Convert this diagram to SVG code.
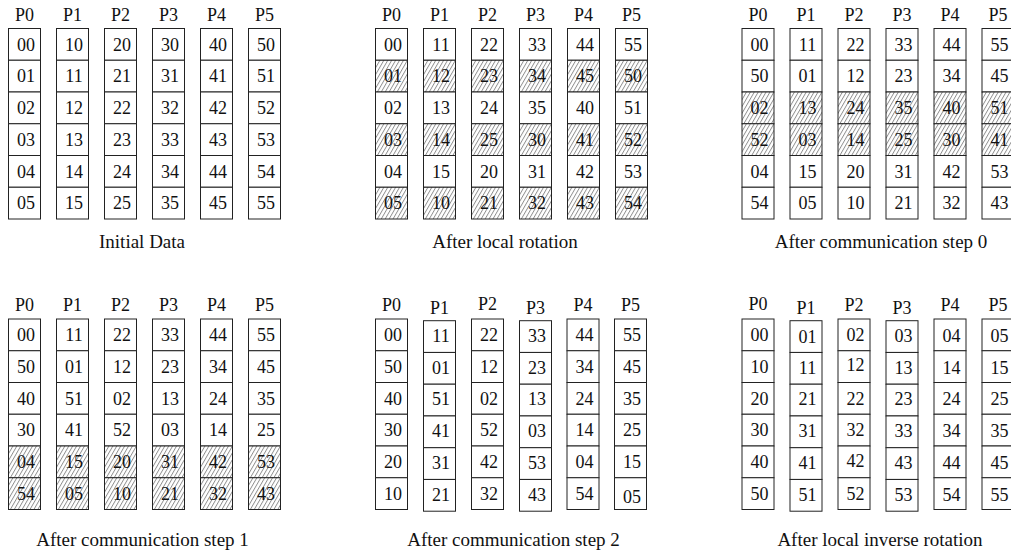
<svg xmlns="http://www.w3.org/2000/svg" xmlns:xlink="http://www.w3.org/1999/xlink" width="1011" height="552" viewBox="0 0 1011 552">
<style>
.c{fill:#fff;stroke:#222;stroke-width:1}
.h{fill:url(#hatch);stroke:#222;stroke-width:1}
text{font-family:"Liberation Serif","Times New Roman",serif;fill:#111}
.col text{font-size:18px;text-anchor:middle}
.lbl{font-size:18px;text-anchor:middle}
.cap{font-size:19px;text-anchor:middle}
</style>
<defs>
<rect id="cell" width="32" height="31.75"/>
<pattern id="hatch" width="3.4" height="10" patternUnits="userSpaceOnUse" patternTransform="rotate(30)">
<rect width="3.4" height="10" fill="#fff"/>
<line x1="0.5" y1="0" x2="0.5" y2="10" stroke="#444" stroke-width="0.6"/>
</pattern>
</defs>
<rect width="1011" height="552" fill="#fff"/>
<g id="connectors"/>

<!-- Panel 1: Initial Data -->
<g id="panel-initial">
<text class="lbl" x="24.5" y="20.5">P0</text><text class="lbl" x="72.5" y="20.5">P1</text><text class="lbl" x="120.5" y="20.5">P2</text><text class="lbl" x="168.5" y="20.5">P3</text><text class="lbl" x="216.5" y="20.5">P4</text><text class="lbl" x="264.5" y="20.5">P5</text>
<g id="init-P0" class="col" transform="translate(8.5,28.5)"><use class="c" href="#cell" y="0"/><use class="c" href="#cell" y="31.75"/><use class="c" href="#cell" y="63.5"/><use class="c" href="#cell" y="95.25"/><use class="c" href="#cell" y="127"/><use class="c" href="#cell" y="158.75"/><text x="17.5" y="22">00</text><text x="17.5" y="53.75">01</text><text x="17.5" y="85.5">02</text><text x="17.5" y="117.25">03</text><text x="17.5" y="149">04</text><text x="17.5" y="180.75">05</text></g>
<g id="init-P1" class="col" transform="translate(56.5,28.5)"><use class="c" href="#cell" y="0"/><use class="c" href="#cell" y="31.75"/><use class="c" href="#cell" y="63.5"/><use class="c" href="#cell" y="95.25"/><use class="c" href="#cell" y="127"/><use class="c" href="#cell" y="158.75"/><text x="17.5" y="22">10</text><text x="17.5" y="53.75">11</text><text x="17.5" y="85.5">12</text><text x="17.5" y="117.25">13</text><text x="17.5" y="149">14</text><text x="17.5" y="180.75">15</text></g>
<g id="init-P2" class="col" transform="translate(104.5,28.5)"><use class="c" href="#cell" y="0"/><use class="c" href="#cell" y="31.75"/><use class="c" href="#cell" y="63.5"/><use class="c" href="#cell" y="95.25"/><use class="c" href="#cell" y="127"/><use class="c" href="#cell" y="158.75"/><text x="17.5" y="22">20</text><text x="17.5" y="53.75">21</text><text x="17.5" y="85.5">22</text><text x="17.5" y="117.25">23</text><text x="17.5" y="149">24</text><text x="17.5" y="180.75">25</text></g>
<g id="init-P3" class="col" transform="translate(152.5,28.5)"><use class="c" href="#cell" y="0"/><use class="c" href="#cell" y="31.75"/><use class="c" href="#cell" y="63.5"/><use class="c" href="#cell" y="95.25"/><use class="c" href="#cell" y="127"/><use class="c" href="#cell" y="158.75"/><text x="17.5" y="22">30</text><text x="17.5" y="53.75">31</text><text x="17.5" y="85.5">32</text><text x="17.5" y="117.25">33</text><text x="17.5" y="149">34</text><text x="17.5" y="180.75">35</text></g>
<g id="init-P4" class="col" transform="translate(200.5,28.5)"><use class="c" href="#cell" y="0"/><use class="c" href="#cell" y="31.75"/><use class="c" href="#cell" y="63.5"/><use class="c" href="#cell" y="95.25"/><use class="c" href="#cell" y="127"/><use class="c" href="#cell" y="158.75"/><text x="17.5" y="22">40</text><text x="17.5" y="53.75">41</text><text x="17.5" y="85.5">42</text><text x="17.5" y="117.25">43</text><text x="17.5" y="149">44</text><text x="17.5" y="180.75">45</text></g>
<g id="init-P5" class="col" transform="translate(248.5,28.5)"><use class="c" href="#cell" y="0"/><use class="c" href="#cell" y="31.75"/><use class="c" href="#cell" y="63.5"/><use class="c" href="#cell" y="95.25"/><use class="c" href="#cell" y="127"/><use class="c" href="#cell" y="158.75"/><text x="17.5" y="22">50</text><text x="17.5" y="53.75">51</text><text x="17.5" y="85.5">52</text><text x="17.5" y="117.25">53</text><text x="17.5" y="149">54</text><text x="17.5" y="180.75">55</text></g>
<text class="cap" x="142" y="248">Initial Data</text>
</g>

<!-- Panel 2: After local rotation -->
<g id="panel-rotation">
<text class="lbl" x="391.5" y="20.5">P0</text><text class="lbl" x="439.5" y="20.5">P1</text><text class="lbl" x="487.5" y="20.5">P2</text><text class="lbl" x="535.5" y="20.5">P3</text><text class="lbl" x="583.5" y="20.5">P4</text><text class="lbl" x="631.5" y="20.5">P5</text>
<g id="rot-P0" class="col" transform="translate(375.5,28.5)"><use class="c" href="#cell" y="0"/><use class="h" href="#cell" y="31.75"/><use class="c" href="#cell" y="63.5"/><use class="h" href="#cell" y="95.25"/><use class="c" href="#cell" y="127"/><use class="h" href="#cell" y="158.75"/><text x="17.5" y="22">00</text><text x="17.5" y="53.75">01</text><text x="17.5" y="85.5">02</text><text x="17.5" y="117.25">03</text><text x="17.5" y="149">04</text><text x="17.5" y="180.75">05</text></g>
<g id="rot-P1" class="col" transform="translate(423.5,28.5)"><use class="c" href="#cell" y="0"/><use class="h" href="#cell" y="31.75"/><use class="c" href="#cell" y="63.5"/><use class="h" href="#cell" y="95.25"/><use class="c" href="#cell" y="127"/><use class="h" href="#cell" y="158.75"/><text x="17.5" y="22">11</text><text x="17.5" y="53.75">12</text><text x="17.5" y="85.5">13</text><text x="17.5" y="117.25">14</text><text x="17.5" y="149">15</text><text x="17.5" y="180.75">10</text></g>
<g id="rot-P2" class="col" transform="translate(471.5,28.5)"><use class="c" href="#cell" y="0"/><use class="h" href="#cell" y="31.75"/><use class="c" href="#cell" y="63.5"/><use class="h" href="#cell" y="95.25"/><use class="c" href="#cell" y="127"/><use class="h" href="#cell" y="158.75"/><text x="17.5" y="22">22</text><text x="17.5" y="53.75">23</text><text x="17.5" y="85.5">24</text><text x="17.5" y="117.25">25</text><text x="17.5" y="149">20</text><text x="17.5" y="180.75">21</text></g>
<g id="rot-P3" class="col" transform="translate(519.5,28.5)"><use class="c" href="#cell" y="0"/><use class="h" href="#cell" y="31.75"/><use class="c" href="#cell" y="63.5"/><use class="h" href="#cell" y="95.25"/><use class="c" href="#cell" y="127"/><use class="h" href="#cell" y="158.75"/><text x="17.5" y="22">33</text><text x="17.5" y="53.75">34</text><text x="17.5" y="85.5">35</text><text x="17.5" y="117.25">30</text><text x="17.5" y="149">31</text><text x="17.5" y="180.75">32</text></g>
<g id="rot-P4" class="col" transform="translate(567.5,28.5)"><use class="c" href="#cell" y="0"/><use class="h" href="#cell" y="31.75"/><use class="c" href="#cell" y="63.5"/><use class="h" href="#cell" y="95.25"/><use class="c" href="#cell" y="127"/><use class="h" href="#cell" y="158.75"/><text x="17.5" y="22">44</text><text x="17.5" y="53.75">45</text><text x="17.5" y="85.5">40</text><text x="17.5" y="117.25">41</text><text x="17.5" y="149">42</text><text x="17.5" y="180.75">43</text></g>
<g id="rot-P5" class="col" transform="translate(615.5,28.5)"><use class="c" href="#cell" y="0"/><use class="h" href="#cell" y="31.75"/><use class="c" href="#cell" y="63.5"/><use class="h" href="#cell" y="95.25"/><use class="c" href="#cell" y="127"/><use class="h" href="#cell" y="158.75"/><text x="17.5" y="22">55</text><text x="17.5" y="53.75">50</text><text x="17.5" y="85.5">51</text><text x="17.5" y="117.25">52</text><text x="17.5" y="149">53</text><text x="17.5" y="180.75">54</text></g>
<text class="cap" x="505" y="248">After local rotation</text>
</g>

<!-- Panel 3: After communication step 0 -->
<g id="panel-step0">
<text class="lbl" x="758" y="20.5">P0</text><text class="lbl" x="806" y="20.5">P1</text><text class="lbl" x="854" y="20.5">P2</text><text class="lbl" x="902" y="20.5">P3</text><text class="lbl" x="950" y="20.5">P4</text><text class="lbl" x="998" y="20.5">P5</text>
<g id="s0-P0" class="col" transform="translate(742,28.5)"><use class="c" href="#cell" y="0"/><use class="c" href="#cell" y="31.75"/><use class="h" href="#cell" y="63.5"/><use class="h" href="#cell" y="95.25"/><use class="c" href="#cell" y="127"/><use class="c" href="#cell" y="158.75"/><text x="17.5" y="22">00</text><text x="17.5" y="53.75">50</text><text x="17.5" y="85.5">02</text><text x="17.5" y="117.25">52</text><text x="17.5" y="149">04</text><text x="17.5" y="180.75">54</text></g>
<g id="s0-P1" class="col" transform="translate(790,28.5)"><use class="c" href="#cell" y="0"/><use class="c" href="#cell" y="31.75"/><use class="h" href="#cell" y="63.5"/><use class="h" href="#cell" y="95.25"/><use class="c" href="#cell" y="127"/><use class="c" href="#cell" y="158.75"/><text x="17.5" y="22">11</text><text x="17.5" y="53.75">01</text><text x="17.5" y="85.5">13</text><text x="17.5" y="117.25">03</text><text x="17.5" y="149">15</text><text x="17.5" y="180.75">05</text></g>
<g id="s0-P2" class="col" transform="translate(838,28.5)"><use class="c" href="#cell" y="0"/><use class="c" href="#cell" y="31.75"/><use class="h" href="#cell" y="63.5"/><use class="h" href="#cell" y="95.25"/><use class="c" href="#cell" y="127"/><use class="c" href="#cell" y="158.75"/><text x="17.5" y="22">22</text><text x="17.5" y="53.75">12</text><text x="17.5" y="85.5">24</text><text x="17.5" y="117.25">14</text><text x="17.5" y="149">20</text><text x="17.5" y="180.75">10</text></g>
<g id="s0-P3" class="col" transform="translate(886,28.5)"><use class="c" href="#cell" y="0"/><use class="c" href="#cell" y="31.75"/><use class="h" href="#cell" y="63.5"/><use class="h" href="#cell" y="95.25"/><use class="c" href="#cell" y="127"/><use class="c" href="#cell" y="158.75"/><text x="17.5" y="22">33</text><text x="17.5" y="53.75">23</text><text x="17.5" y="85.5">35</text><text x="17.5" y="117.25">25</text><text x="17.5" y="149">31</text><text x="17.5" y="180.75">21</text></g>
<g id="s0-P4" class="col" transform="translate(934,28.5)"><use class="c" href="#cell" y="0"/><use class="c" href="#cell" y="31.75"/><use class="h" href="#cell" y="63.5"/><use class="h" href="#cell" y="95.25"/><use class="c" href="#cell" y="127"/><use class="c" href="#cell" y="158.75"/><text x="17.5" y="22">44</text><text x="17.5" y="53.75">34</text><text x="17.5" y="85.5">40</text><text x="17.5" y="117.25">30</text><text x="17.5" y="149">42</text><text x="17.5" y="180.75">32</text></g>
<g id="s0-P5" class="col" transform="translate(982,28.5)"><use class="c" href="#cell" y="0"/><use class="c" href="#cell" y="31.75"/><use class="h" href="#cell" y="63.5"/><use class="h" href="#cell" y="95.25"/><use class="c" href="#cell" y="127"/><use class="c" href="#cell" y="158.75"/><text x="17.5" y="22">55</text><text x="17.5" y="53.75">45</text><text x="17.5" y="85.5">51</text><text x="17.5" y="117.25">41</text><text x="17.5" y="149">53</text><text x="17.5" y="180.75">43</text></g>
<text class="cap" x="881" y="248">After communication step 0</text>
</g>

<!-- Panel 4: After communication step 1 -->
<g id="panel-step1">
<text class="lbl" x="24.5" y="311">P0</text><text class="lbl" x="72.5" y="311">P1</text><text class="lbl" x="120.5" y="311">P2</text><text class="lbl" x="168.5" y="311">P3</text><text class="lbl" x="216.5" y="311">P4</text><text class="lbl" x="264.5" y="311">P5</text>
<g id="s1-P0" class="col" transform="translate(8.5,319)"><use class="c" href="#cell" y="0"/><use class="c" href="#cell" y="31.75"/><use class="c" href="#cell" y="63.5"/><use class="c" href="#cell" y="95.25"/><use class="h" href="#cell" y="127"/><use class="h" href="#cell" y="158.75"/><text x="17.5" y="22">00</text><text x="17.5" y="53.75">50</text><text x="17.5" y="85.5">40</text><text x="17.5" y="117.25">30</text><text x="17.5" y="149">04</text><text x="17.5" y="180.75">54</text></g>
<g id="s1-P1" class="col" transform="translate(56.5,319)"><use class="c" href="#cell" y="0"/><use class="c" href="#cell" y="31.75"/><use class="c" href="#cell" y="63.5"/><use class="c" href="#cell" y="95.25"/><use class="h" href="#cell" y="127"/><use class="h" href="#cell" y="158.75"/><text x="17.5" y="22">11</text><text x="17.5" y="53.75">01</text><text x="17.5" y="85.5">51</text><text x="17.5" y="117.25">41</text><text x="17.5" y="149">15</text><text x="17.5" y="180.75">05</text></g>
<g id="s1-P2" class="col" transform="translate(104.5,319)"><use class="c" href="#cell" y="0"/><use class="c" href="#cell" y="31.75"/><use class="c" href="#cell" y="63.5"/><use class="c" href="#cell" y="95.25"/><use class="h" href="#cell" y="127"/><use class="h" href="#cell" y="158.75"/><text x="17.5" y="22">22</text><text x="17.5" y="53.75">12</text><text x="17.5" y="85.5">02</text><text x="17.5" y="117.25">52</text><text x="17.5" y="149">20</text><text x="17.5" y="180.75">10</text></g>
<g id="s1-P3" class="col" transform="translate(152.5,319)"><use class="c" href="#cell" y="0"/><use class="c" href="#cell" y="31.75"/><use class="c" href="#cell" y="63.5"/><use class="c" href="#cell" y="95.25"/><use class="h" href="#cell" y="127"/><use class="h" href="#cell" y="158.75"/><text x="17.5" y="22">33</text><text x="17.5" y="53.75">23</text><text x="17.5" y="85.5">13</text><text x="17.5" y="117.25">03</text><text x="17.5" y="149">31</text><text x="17.5" y="180.75">21</text></g>
<g id="s1-P4" class="col" transform="translate(200.5,319)"><use class="c" href="#cell" y="0"/><use class="c" href="#cell" y="31.75"/><use class="c" href="#cell" y="63.5"/><use class="c" href="#cell" y="95.25"/><use class="h" href="#cell" y="127"/><use class="h" href="#cell" y="158.75"/><text x="17.5" y="22">44</text><text x="17.5" y="53.75">34</text><text x="17.5" y="85.5">24</text><text x="17.5" y="117.25">14</text><text x="17.5" y="149">42</text><text x="17.5" y="180.75">32</text></g>
<g id="s1-P5" class="col" transform="translate(248.5,319)"><use class="c" href="#cell" y="0"/><use class="c" href="#cell" y="31.75"/><use class="c" href="#cell" y="63.5"/><use class="c" href="#cell" y="95.25"/><use class="h" href="#cell" y="127"/><use class="h" href="#cell" y="158.75"/><text x="17.5" y="22">55</text><text x="17.5" y="53.75">45</text><text x="17.5" y="85.5">35</text><text x="17.5" y="117.25">25</text><text x="17.5" y="149">53</text><text x="17.5" y="180.75">43</text></g>
<text class="cap" x="142.5" y="546">After communication step 1</text>
</g>

<!-- Panel 5: After communication step 2 -->
<g id="panel-step2">
<text class="lbl" x="391.5" y="310.5">P0</text><text class="lbl" x="439.5" y="313.5">P1</text><text class="lbl" x="487.5" y="310">P2</text><text class="lbl" x="535.5" y="314">P3</text><text class="lbl" x="583" y="310.5">P4</text><text class="lbl" x="630.5" y="311">P5</text>
<g id="s2-P0" class="col" transform="translate(375.5,319)"><use class="c" href="#cell" y="0"/><use class="c" href="#cell" y="31.75"/><use class="c" href="#cell" y="63.5"/><use class="c" href="#cell" y="95.25"/><use class="c" href="#cell" y="127"/><use class="c" href="#cell" y="158.75"/><text x="17.5" y="22">00</text><text x="17.5" y="53.75">50</text><text x="17.5" y="85.5">40</text><text x="17.5" y="117.25">30</text><text x="17.5" y="149">20</text><text x="17.5" y="180.75">10</text></g>
<g id="s2-P1" class="col" transform="translate(423.5,320.7)"><use class="c" href="#cell" y="0"/><use class="c" href="#cell" y="31.75"/><use class="c" href="#cell" y="63.5"/><use class="c" href="#cell" y="95.25"/><use class="c" href="#cell" y="127"/><use class="c" href="#cell" y="158.75"/><text x="17.5" y="21">11</text><text x="17.5" y="53">01</text><text x="17.5" y="84.5">51</text><text x="17.5" y="116.5">41</text><text x="17.5" y="148">31</text><text x="17.5" y="180">21</text></g>
<g id="s2-P2" class="col" transform="translate(471.5,319)"><use class="c" href="#cell" y="0"/><use class="c" href="#cell" y="31.75"/><use class="c" href="#cell" y="63.5"/><use class="c" href="#cell" y="95.25"/><use class="c" href="#cell" y="127"/><use class="c" href="#cell" y="158.75"/><text x="17.5" y="22">22</text><text x="17.5" y="53.75">12</text><text x="17.5" y="85.5">02</text><text x="17.5" y="117.25">52</text><text x="17.5" y="149">42</text><text x="17.5" y="180.75">32</text></g>
<g id="s2-P3" class="col" transform="translate(519.5,320.7)"><use class="c" href="#cell" y="0"/><use class="c" href="#cell" y="31.75"/><use class="c" href="#cell" y="63.5"/><use class="c" href="#cell" y="95.25"/><use class="c" href="#cell" y="127"/><use class="c" href="#cell" y="158.75"/><text x="17.5" y="21">33</text><text x="17.5" y="53">23</text><text x="17.5" y="84.5">13</text><text x="17.5" y="116.5">03</text><text x="17.5" y="148">53</text><text x="17.5" y="180">43</text></g>
<g id="s2-P4" class="col" transform="translate(567,319)"><use class="c" href="#cell" y="0"/><use class="c" href="#cell" y="31.75"/><use class="c" href="#cell" y="63.5"/><use class="c" href="#cell" y="95.25"/><use class="c" href="#cell" y="127"/><use class="c" href="#cell" y="158.75"/><text x="17.5" y="22">44</text><text x="17.5" y="53.75">34</text><text x="17.5" y="85.5">24</text><text x="17.5" y="117.25">14</text><text x="17.5" y="149">04</text><text x="17.5" y="180.75">54</text></g>
<g id="s2-P5" class="col" transform="translate(614.5,319)"><use class="c" href="#cell" y="0"/><use class="c" href="#cell" y="31.75"/><use class="c" href="#cell" y="63.5"/><use class="c" href="#cell" y="95.25"/><use class="c" href="#cell" y="127"/><use class="c" href="#cell" y="158.75"/><text x="17.5" y="22">55</text><text x="17.5" y="53.75">45</text><text x="17.5" y="85.5">35</text><text x="17.5" y="117.25">25</text><text x="17.5" y="149">15</text><text x="17.5" y="183.5">05</text></g>
<text class="cap" x="513.5" y="546">After communication step 2</text>
</g>

<!-- Panel 6: After local inverse rotation -->
<g id="panel-inverse">
<text class="lbl" x="758" y="310">P0</text><text class="lbl" x="806" y="313.5">P1</text><text class="lbl" x="854" y="311">P2</text><text class="lbl" x="902" y="313.5">P3</text><text class="lbl" x="950" y="310.5">P4</text><text class="lbl" x="998" y="310.5">P5</text>
<g id="inv-P0" class="col" transform="translate(742,319)"><use class="c" href="#cell" y="0"/><use class="c" href="#cell" y="31.75"/><use class="c" href="#cell" y="63.5"/><use class="c" href="#cell" y="95.25"/><use class="c" href="#cell" y="127"/><use class="c" href="#cell" y="158.75"/><text x="17.5" y="22">00</text><text x="17.5" y="53.75">10</text><text x="17.5" y="85.5">20</text><text x="17.5" y="117.25">30</text><text x="17.5" y="149">40</text><text x="17.5" y="180.75">50</text></g>
<g id="inv-P1" class="col" transform="translate(790,320.7)"><use class="c" href="#cell" y="0"/><use class="c" href="#cell" y="31.75"/><use class="c" href="#cell" y="63.5"/><use class="c" href="#cell" y="95.25"/><use class="c" href="#cell" y="127"/><use class="c" href="#cell" y="158.75"/><text x="17.5" y="22">01</text><text x="17.5" y="53.5">11</text><text x="17.5" y="84.5">21</text><text x="17.5" y="116.5">31</text><text x="17.5" y="148">41</text><text x="17.5" y="180">51</text></g>
<g id="inv-P2" class="col" transform="translate(838,319)"><use class="c" href="#cell" y="0"/><use class="c" href="#cell" y="31.75"/><use class="c" href="#cell" y="63.5"/><use class="c" href="#cell" y="95.25"/><use class="c" href="#cell" y="127"/><use class="c" href="#cell" y="158.75"/><text x="17.5" y="22">02</text><text x="17.5" y="52">12</text><text x="17.5" y="85.5">22</text><text x="17.5" y="117.25">32</text><text x="17.5" y="147.5">42</text><text x="17.5" y="180.75">52</text></g>
<g id="inv-P3" class="col" transform="translate(886,320.7)"><use class="c" href="#cell" y="0"/><use class="c" href="#cell" y="31.75"/><use class="c" href="#cell" y="63.5"/><use class="c" href="#cell" y="95.25"/><use class="c" href="#cell" y="127"/><use class="c" href="#cell" y="158.75"/><text x="17.5" y="21.5">03</text><text x="17.5" y="53">13</text><text x="17.5" y="84.5">23</text><text x="17.5" y="116.5">33</text><text x="17.5" y="148">43</text><text x="17.5" y="180">53</text></g>
<g id="inv-P4" class="col" transform="translate(934,319)"><use class="c" href="#cell" y="0"/><use class="c" href="#cell" y="31.75"/><use class="c" href="#cell" y="63.5"/><use class="c" href="#cell" y="95.25"/><use class="c" href="#cell" y="127"/><use class="c" href="#cell" y="158.75"/><text x="17.5" y="23">04</text><text x="17.5" y="54.5">14</text><text x="17.5" y="86">24</text><text x="17.5" y="117.75">34</text><text x="17.5" y="149.5">44</text><text x="17.5" y="181.5">54</text></g>
<g id="inv-P5" class="col" transform="translate(982,319)"><use class="c" href="#cell" y="0"/><use class="c" href="#cell" y="31.75"/><use class="c" href="#cell" y="63.5"/><use class="c" href="#cell" y="95.25"/><use class="c" href="#cell" y="127"/><use class="c" href="#cell" y="158.75"/><text x="17.5" y="23">05</text><text x="17.5" y="54.5">15</text><text x="17.5" y="86">25</text><text x="17.5" y="117.75">35</text><text x="17.5" y="149.5">45</text><text x="17.5" y="181.5">55</text></g>
<text class="cap" x="880" y="546">After local inverse rotation</text>
</g>
</svg>
